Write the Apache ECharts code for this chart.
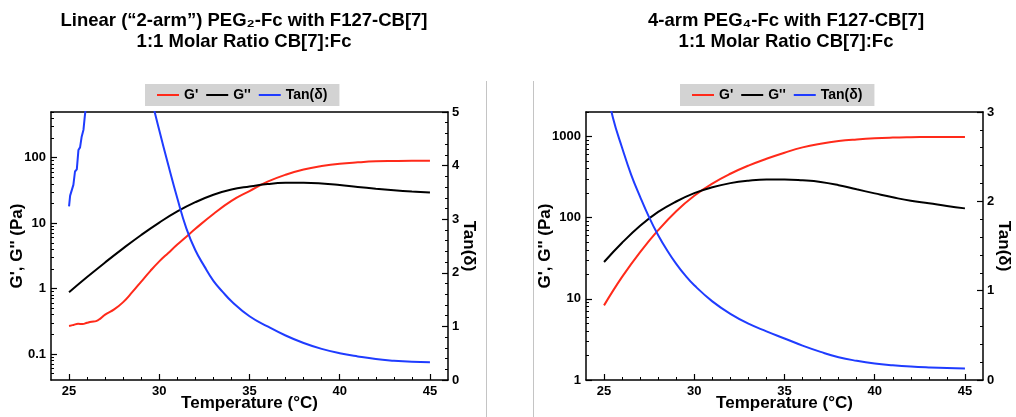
<!DOCTYPE html>
<html>
<head>
<meta charset="utf-8">
<script src="https://cdn.jsdelivr.net/npm/echarts@6/dist/echarts.min.js"></script>
<style>
html,body{margin:0;padding:0;background:#fff;}
#chart{width:1016px;height:417px;}
</style>
</head>
<body>
<div id="chart"></div>
<script>
// ---------- data ----------
const titleL = 'Linear (\u201C2-arm\u201D) PEG\u2082-Fc with F127-CB[7]\n1:1 Molar Ratio CB[7]:Fc';
const titleR = '4-arm PEG\u2084-Fc with F127-CB[7]\n1:1 Molar Ratio CB[7]:Fc';
const legendNames = ["G'", "G''", 'Tan(\u03B4)'];
const xName = 'Temperature (\u00B0C)';
const yNameLeft = "G', G'' (Pa)";
const yNameRight = 'Tan(\u03B4)';

const xTicksMajor = [25, 30, 35, 40, 45];
const xTicksMinor = [25,26,27,28,29,30,31,32,33,34,35,36,37,38,39,40,41,42,43,44,45];

// left panel (linear PEG2-Fc)
const logTicksL = [0.1, 1, 10, 100];
const logMinorL = [0.05,0.06,0.07,0.08,0.09,0.2,0.3,0.4,0.5,0.6,0.7,0.8,0.9,2,3,4,5,6,7,8,9,20,30,40,50,60,70,80,90,200,300,400,500];
const tempGpL = [25,25.25,25.5,25.75,26,26.25,26.5,26.75,27,27.5,28,28.5,29,29.5,30,30.5,31,31.5,32,33,34,35,36,37,38,39,40,41,42,43,44,45];
const gpL = [0.268,0.278,0.289,0.286,0.30,0.312,0.318,0.35,0.40,0.48,0.62,0.88,1.28,1.85,2.6,3.5,4.7,6.2,8.2,13.8,21.9,30.9,43,55,66,74.5,81,85,88,89,89.5,89.5];
const tempGppL = [25,26,27,28,29,30,31,32,33,34,35,36,37,38,39,40,41,42,43,44,45];
const gppL = [0.88,1.50,2.51,4.12,6.6,10.2,15.1,20.9,27.2,32.7,36.3,39.5,41.3,41.6,40.5,38.2,35.6,33.5,31.8,30.4,29.3];
const tempTanL1 = [25,25.06,25.15,25.24,25.33,25.43,25.52,25.61,25.7,25.8,25.87,25.95];
const tanL1 = [3.24,3.44,3.41,3.64,3.89,3.93,4.29,4.34,4.54,4.67,4.91,5.15];
const tempTanL2 = [29.7,30,30.5,31,31.5,32,32.5,33,33.5,34,35,36,37,38,39,40,41,42,43,44,45];
const tanL2 = [5.06,4.66,4.01,3.39,2.83,2.42,2.12,1.85,1.65,1.47,1.19,1.00,0.83,0.69,0.58,0.50,0.44,0.39,0.36,0.34,0.33];

// right panel (4-arm PEG4-Fc)
const logTicksR = [1, 10, 100, 1000];
const logMinorR = [2,3,4,5,6,7,8,9,20,30,40,50,60,70,80,90,200,300,400,500,600,700,800,900,2000];
const tempR = [25,26,27,28,29,30,31,32,33,34,35,36,37,38,39,40,41,42,43,44,45];
const gpR = [8.3,18.6,37.6,70,120,186,263,347,437,531,631,733,813,877,919,950,968,978,984,986,986];
const gppR = [28.4,49,79.4,117.5,158,200,237,266,285,295,295,288,275,251,223,199,178,161,150,139,130];
const tempTanR = [25,25.5,26,26.5,27,27.5,28,28.5,29,29.5,30,31,32,33,34,35,36,37,38,39,40,41,42,43,44,45];
const tanR = [3.4,2.93,2.6,2.3,2.05,1.82,1.62,1.45,1.30,1.17,1.06,0.88,0.74,0.63,0.545,0.465,0.385,0.315,0.255,0.215,0.185,0.165,0.15,0.14,0.133,0.13];

// ---------- build ----------
const FONT = 'Liberation Sans, Arial, Helvetica, sans-serif';
const RED = '#ff2a1a', BLACK = '#000000', BLUE = '#1f3cff';
const pairs = (xs, ys) => xs.map((x, i) => [x, ys[i]]);
const nameStyle = {fontFamily: FONT, fontWeight: 'bold', fontSize: 17, color: '#000'};
const labelStyle = {fontFamily: FONT, fontWeight: 'bold', fontSize: 13, color: '#000'};
const AXC = '#000';

const grids = [], xAxes = [], yAxes = [], series = [], legends = [], titles = [];

function panel(p) {
  const gi = grids.length;
  grids.push({left: p.left, top: 112, width: 397, height: 269, show: false});
  const xi = xAxes.length;
  xAxes.push({
    type: 'value', gridIndex: gi, min: 24, max: 46, position: 'bottom',
    name: xName, nameLocation: 'middle', nameGap: 15, nameMoveOverlap: false, nameTextStyle: nameStyle,
    axisLine: {show: true, onZero: false, lineStyle: {color: AXC, width: 1.5}},
    axisTick: {show: true, inside: true, length: 6, customValues: xTicksMajor, lineStyle: {color: AXC, width: 1.2}},
    axisLabel: Object.assign({show: true, customValues: xTicksMajor, margin: 5}, labelStyle),
    splitLine: {show: false}
  });
  xAxes.push({
    type: 'value', gridIndex: gi, min: 24, max: 46, position: 'bottom',
    axisLine: {show: false, onZero: false},
    axisTick: {show: true, inside: true, length: 3, customValues: xTicksMinor, lineStyle: {color: AXC, width: 1}},
    axisLabel: {show: false}, splitLine: {show: false}
  });
  xAxes.push({
    type: 'value', gridIndex: gi, min: 24, max: 46, position: 'top',
    axisLine: {show: true, onZero: false, lineStyle: {color: AXC, width: 1.5}},
    axisTick: {show: false}, axisLabel: {show: false}, splitLine: {show: false}
  });
  const yi = yAxes.length;
  yAxes.push({
    type: 'log', logBase: 10, gridIndex: gi, min: p.logMin, max: p.logMax, position: 'left',
    name: yNameLeft, nameLocation: 'middle', nameGap: p.leftNameGap, nameMoveOverlap: false, nameTextStyle: nameStyle,
    axisLine: {show: true, onZero: false, lineStyle: {color: AXC, width: 1.5}},
    axisTick: {show: true, inside: true, length: 6, customValues: p.logTicks, lineStyle: {color: AXC, width: 1.2}},
    axisLabel: Object.assign({show: true, customValues: p.logTicks, margin: 5, formatter: v => String(+(+v).toPrecision(6))}, labelStyle),
    splitLine: {show: false}
  });
  yAxes.push({
    type: 'log', logBase: 10, gridIndex: gi, min: p.logMin, max: p.logMax, position: 'left',
    axisLine: {show: false, onZero: false},
    axisTick: {show: true, inside: true, length: 3, customValues: p.logMinor, lineStyle: {color: AXC, width: 1}},
    axisLabel: {show: false}, splitLine: {show: false}
  });
  const ti = yAxes.length;
  yAxes.push({
    type: 'value', gridIndex: gi, min: 0, max: p.tanMax, interval: 1, position: 'right',
    name: yNameRight, nameLocation: 'middle', nameGap: 12, nameRotate: -90, nameMoveOverlap: false, nameTextStyle: nameStyle,
    axisLine: {show: true, onZero: false, lineStyle: {color: AXC, width: 1.5}},
    axisTick: {show: true, inside: true, length: 6, lineStyle: {color: AXC, width: 1.2}},
    minorTick: {show: true, splitNumber: 5, length: 3, lineStyle: {color: AXC, width: 1}},
    axisLabel: Object.assign({show: true, margin: 4}, labelStyle),
    splitLine: {show: false}, minorSplitLine: {show: false}
  });
  const common = {type: 'line', showSymbol: false, symbol: 'none', smooth: 0.45, clip: true,
    xAxisIndex: xi, animation: false, emphasis: {disabled: true}, z: 3};
  series.push(Object.assign({}, common, {name: legendNames[0], yAxisIndex: yi, data: pairs(p.tGp, p.gp),
    lineStyle: {color: RED, width: 2}, itemStyle: {color: RED}}));
  series.push(Object.assign({}, common, {name: legendNames[1], yAxisIndex: yi, data: pairs(p.tGpp, p.gpp),
    lineStyle: {color: BLACK, width: 2}, itemStyle: {color: BLACK}}));
  p.tan.forEach((t, k) => {
    series.push(Object.assign({}, common, {name: legendNames[2], yAxisIndex: ti, data: pairs(t[0], t[1]),
      smooth: k === 0 && p.tan.length > 1 ? false : 0.45,
      lineStyle: {color: BLUE, width: 2}, itemStyle: {color: BLUE}}));
  });
  legends.push({
    data: legendNames, left: p.legendLeft, top: 84, orient: 'horizontal',
    backgroundColor: '#d3d3d3', padding: [4, 12], itemGap: 8, itemWidth: 22, itemHeight: 2,
    icon: 'rect', selectedMode: false,
    textStyle: {fontFamily: FONT, fontWeight: 'bold', fontSize: 14, color: '#000'}
  });
  titles.push({
    text: p.title, left: p.titleCenter, top: 10, textAlign: 'center', padding: 0,
    textStyle: {fontFamily: FONT, fontWeight: 'bold', fontSize: 18.5, lineHeight: 21, color: '#000'}
  });
}

panel({left: 51, logMin: 0.04, logMax: 500, logTicks: logTicksL, logMinor: logMinorL, tanMax: 5,
  leftNameGap: 25, legendLeft: 145, titleCenter: 244, title: titleL,
  tGp: tempGpL, gp: gpL, tGpp: tempGppL, gpp: gppL,
  tan: [[tempTanL1, tanL1], [tempTanL2, tanL2]]});
panel({left: 586, logMin: 1, logMax: 2000, logTicks: logTicksR, logMinor: logMinorR, tanMax: 3,
  leftNameGap: 32, legendLeft: 680, titleCenter: 786, title: titleR,
  tGp: tempR, gp: gpR, tGpp: tempR, gpp: gppR,
  tan: [[tempTanR, tanR]]});

const chart = echarts.init(document.getElementById('chart'), null, {renderer: 'canvas'});
chart.setOption({
  animation: false,
  backgroundColor: '#ffffff',
  title: titles,
  legend: legends,
  grid: grids,
  xAxis: xAxes,
  yAxis: yAxes,
  series: series,
  graphic: [
    {type: 'line', shape: {x1: 486.5, y1: 81, x2: 486.5, y2: 417}, style: {stroke: '#c4c4c4', lineWidth: 1}, silent: true},
    {type: 'line', shape: {x1: 533.5, y1: 81, x2: 533.5, y2: 417}, style: {stroke: '#c4c4c4', lineWidth: 1}, silent: true}
  ]
});
</script>
</body>
</html>
